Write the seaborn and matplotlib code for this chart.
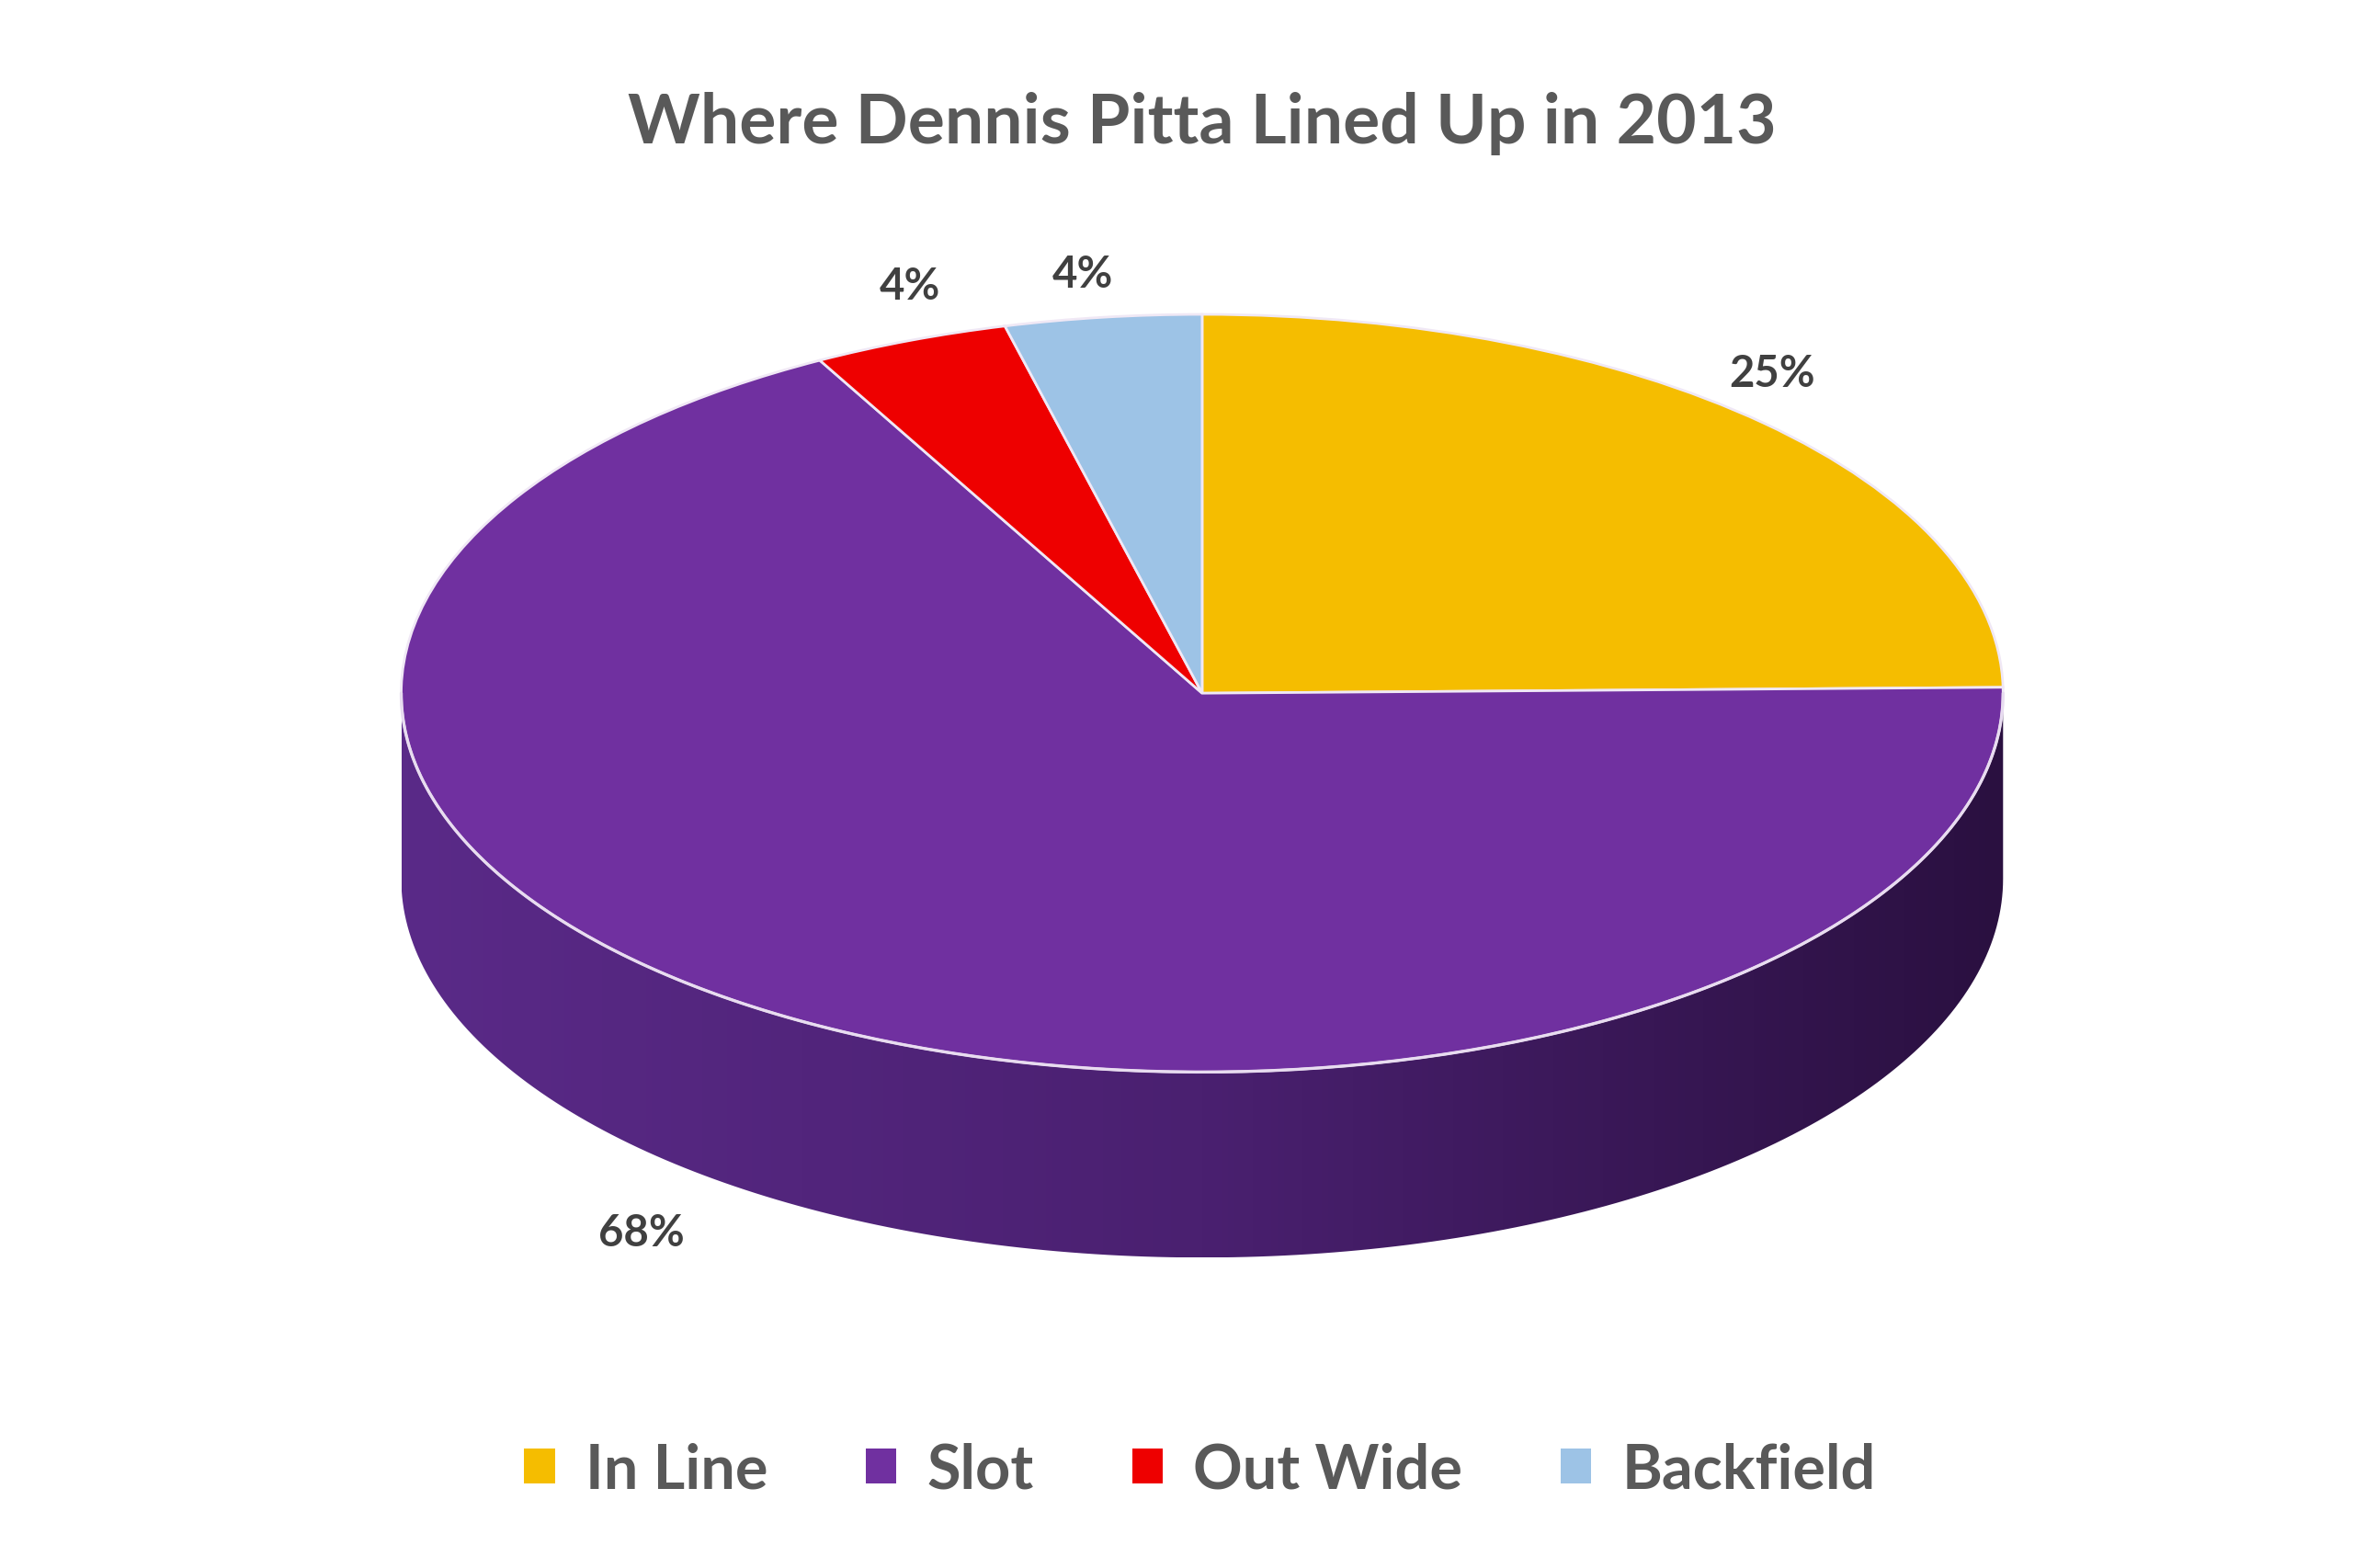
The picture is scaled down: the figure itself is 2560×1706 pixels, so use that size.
import numpy as np
import matplotlib
matplotlib.use("Agg")
import matplotlib.pyplot as plt
import matplotlib.transforms as mtransforms
from matplotlib.patches import Patch, Polygon
import seaborn as sns

sns.set_theme(style="white")
plt.rcParams["font.family"] = ["Lato", "DejaVu Sans"]

categories = ["In Line", "Slot", "Out Wide", "Backfield"]
shares = [25, 68, 4, 4]
colors = ["#f5bd00", "#7030a0", "#ee0000", "#9dc3e6"]
label_pos = [(1175, 248), (425, 818), (603, 190), (718, 182)]

W, H = 1560, 1040
fig = plt.figure(figsize=(12.8, 12.8 * H / W), dpi=200)
ax = fig.add_axes([0, 0, 1, 1])
ax.set_xlim(0, W)
ax.set_ylim(0, H)
ax.axis("off")

cx, cy, r, squash, depth = 797, H - 460, 531, 0.473, 123

# side of the disc (only the slot slice is visible from the front)
t = np.linspace(np.pi, 2 * np.pi, 200)
top = np.column_stack([cx + r * np.cos(t), cy + r * squash * np.sin(t)])
bot = top[::-1] - [0, depth]
side = Polygon(np.vstack([top, bot]), closed=True, facecolor="none", edgecolor="none")
ax.add_patch(side)
grad = np.linspace(0, 1, 256)[None, :]
cmap = matplotlib.colors.LinearSegmentedColormap.from_list("side", ["#5a2a88", "#4a2070", "#2a1040"])
img = ax.imshow(grad, cmap=cmap, extent=[cx - r, cx + r, cy - r * squash - depth, cy], aspect="auto", zorder=1)
img.set_clip_path(side)

# top face
wedges, _ = ax.pie(shares, colors=colors, startangle=90, counterclock=False, radius=1,
                   wedgeprops=dict(edgecolor="#f0e8f5", linewidth=1.0))
tr = mtransforms.Affine2D().scale(r, r * squash).translate(cx, cy) + ax.transData
for w in wedges:
    w.set_transform(tr)
    w.set_zorder(3)
ax.set_xlim(0, W)
ax.set_ylim(0, H)
ax.set_aspect("auto")

ax.plot(top[:, 0], top[:, 1], color="#e8dcf0", lw=1.2, zorder=4)

for s, (x, y) in zip(shares, label_pos):
    ax.text(x, H - y, f"{s}%", ha="center", va="center", fontsize=17, fontweight="bold", color="#404040")

ax.text(797, H - 82, "Where Dennis Pitta Lined Up in 2013", ha="center", va="center",
        fontsize=27, fontweight="bold", color="#595959")

handles = [Patch(facecolor=c, edgecolor="none") for c in colors]
fig.legend(handles, categories, loc="center", bbox_to_anchor=(0.51, 1 - 975 / H), ncol=4,
           frameon=False, prop=dict(weight="bold", size=24),
           handlelength=0.5, handleheight=0.5, handletextpad=0.5, columnspacing=1.6,
           labelcolor="#595959")

fig.savefig("out.png", dpi=200, facecolor="white")
